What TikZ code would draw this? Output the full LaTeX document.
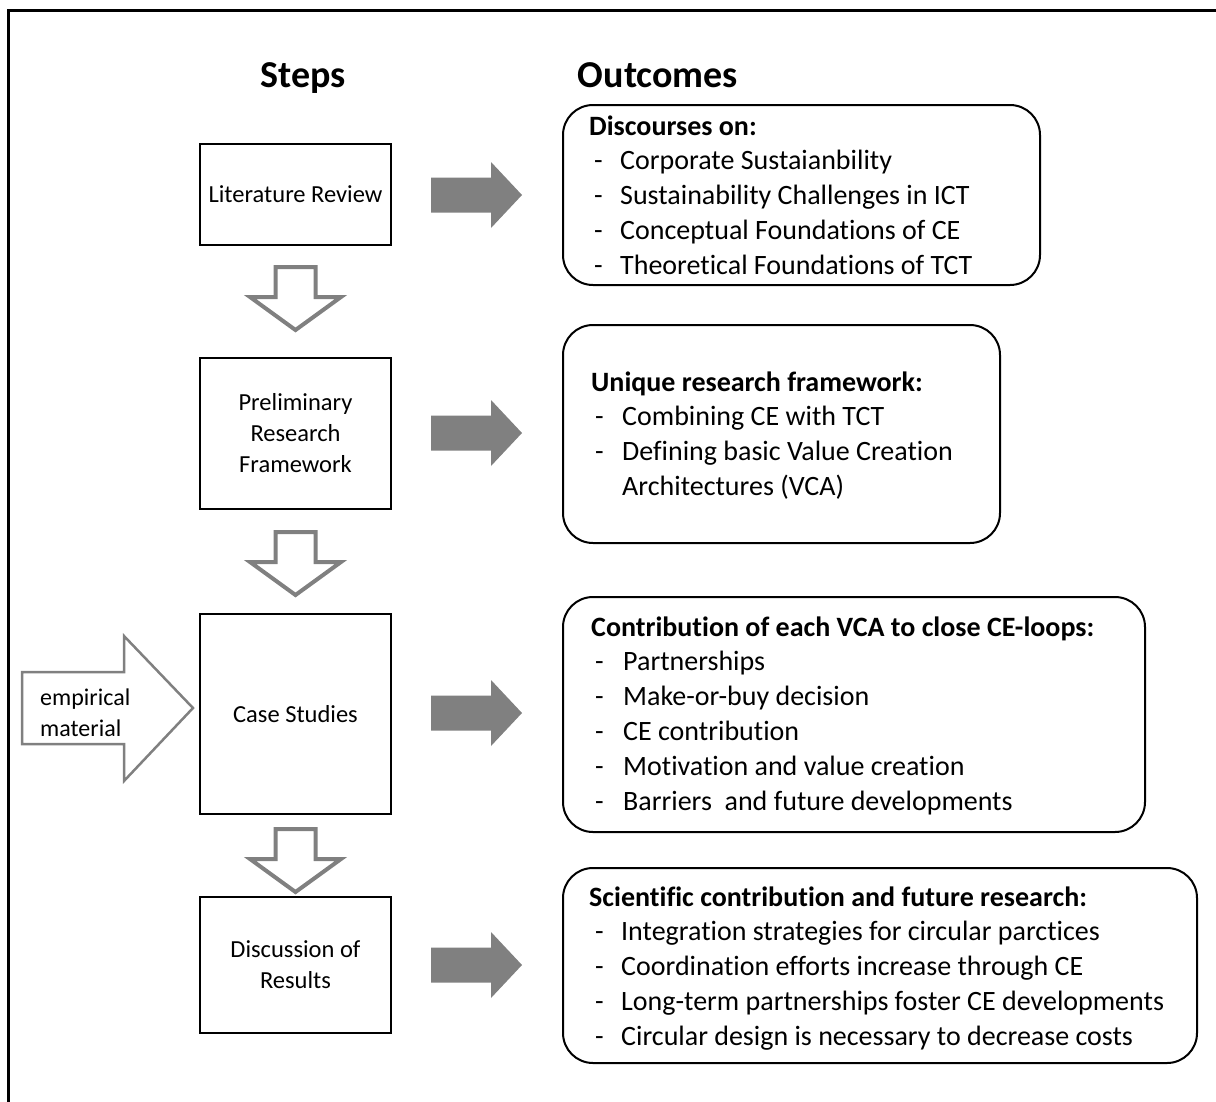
\documentclass[tikz,border=0pt]{standalone}
\usepackage{fontspec}
\setmainfont{Carlito}[Ligatures=NoCommon]
\begin{document}
\begin{tikzpicture}[x=1pt,y=-1pt,
  stepbox/.style={draw=black, line width=2pt, minimum width=191pt, align=center,
    inner sep=0pt, font=\fontsize{24.5}{31}\selectfont},
  outbox/.style={draw=black, line width=2pt, rounded corners=30pt, inner sep=0pt},
  headtxt/.style={anchor=base west, inner sep=0pt, font=\fontsize{28}{35}\selectfont\bfseries},
  itemtxt/.style={anchor=base west, inner sep=0pt, font=\fontsize{28}{35}\selectfont},
  coltitle/.style={anchor=base, inner sep=0pt, font=\fontsize{38}{44}\selectfont\bfseries},
  sidetxt/.style={anchor=base west, inner sep=0pt, font=\fontsize{24}{31}\selectfont},
  rblk/.pic={\fill[black!50] (0,-17.5) -- (60,-17.5) -- (60,-33) -- (91,0) -- (60,33) -- (60,17.5) -- (0,17.5) -- cycle;},
  dblk/.pic={\draw[black!50, line width=4pt, line join=miter]
      (-20,0) -- (20,0) -- (20,30) -- (45.5,30) -- (0,63) -- (-45.5,30) -- (-20,30) -- cycle;}
]
\useasboundingbox (0,0) rectangle (1216,1101);
% outer frame
\draw[line width=3pt] (8,1130) -- (8,10) -- (1240,10);

% column titles
\node[coltitle] (stepsT) at (303.5,87) {Steps};
\node[coltitle] (outT) at (658,87) {Outcomes};

% steps
\node[stepbox, minimum height=101pt] (lit) at (295.5,194.5) {Literature Review};
\node[stepbox, minimum height=151pt] (prf) at (295.5,433.5) {Preliminary\\Research\\Framework};
\node[stepbox, minimum height=200pt] (cas) at (295.5,714) {Case Studies};
\node[stepbox, minimum height=136pt] (dis) at (295.5,965) {Discussion of\\Results};

% hollow arrows between the steps
\pic at (295.5,267) {dblk};
\pic at (295.5,532) {dblk};
\pic at (295.5,829) {dblk};

% empirical material input
\draw[black!50, line width=2.5pt, line join=miter] (22,672) -- (124,672) -- (124,636) -- (193,708)
  -- (124,781) -- (124,744) -- (22,744) -- cycle;
\node[sidetxt] (emp) at (40,705) {empirical};
\node[sidetxt] (mat) at (40,736) {material};

% arrows from steps to outcomes
\pic at (431,195) {rblk};
\pic at (431,433) {rblk};
\pic at (431,713) {rblk};
\pic at (431,965) {rblk};

% outcome boxes
\node[outbox, minimum width=477pt, minimum height=180pt] (o1) at (801.5,195) {};
\node[outbox, minimum width=437pt, minimum height=218pt] (o2) at (781.5,434) {};
\node[outbox, minimum width=582pt, minimum height=235pt] (o3) at (854,714.5) {};
\node[outbox, minimum width=634pt, minimum height=195pt] (o4) at (880,965.5) {};

% outcome texts
\node[headtxt] (o1h) at (589,135) {Discourses on:};
\foreach \t [count=\i] in {Corporate Sustaianbility, Sustainability Challenges in ICT,
  Conceptual Foundations of CE, Theoretical Foundations of TCT}
  \node[itemtxt] (o1i\i) at (594,134+35*\i) {\makebox[26pt][l]{-}\t};

\node[headtxt] (o2h) at (591,391) {Unique research framework:};
\node[itemtxt] (o2i1) at (595,425) {\makebox[27pt][l]{-}Combining CE with TCT};
\node[itemtxt] (o2i2) at (595,460) {\makebox[27pt][l]{-}Defining basic Value Creation};
\node[itemtxt] (o2i3) at (622,495) {Architectures (VCA)};

\node[headtxt] (o3h) at (591,636) {Contribution of each VCA to close CE-loops:};
\foreach \t [count=\i] in {Partnerships, Make-or-buy decision, CE contribution,
  Motivation and value creation, Barriers\ \ and future developments}
  \node[itemtxt] (o3i\i) at (595,635+35*\i) {\makebox[28pt][l]{-}\t};

\node[headtxt] (o4h) at (589,906) {Scientific contribution and future research:};
\foreach \t [count=\i] in {Integration strategies for circular parctices,
  Coordination efforts increase through CE, Long-term partnerships foster CE developments,
  Circular design is necessary to decrease costs}
  \node[itemtxt] (o4i\i) at (595,905+35*\i) {\makebox[26pt][l]{-}\t};
\end{tikzpicture}
\end{document}
